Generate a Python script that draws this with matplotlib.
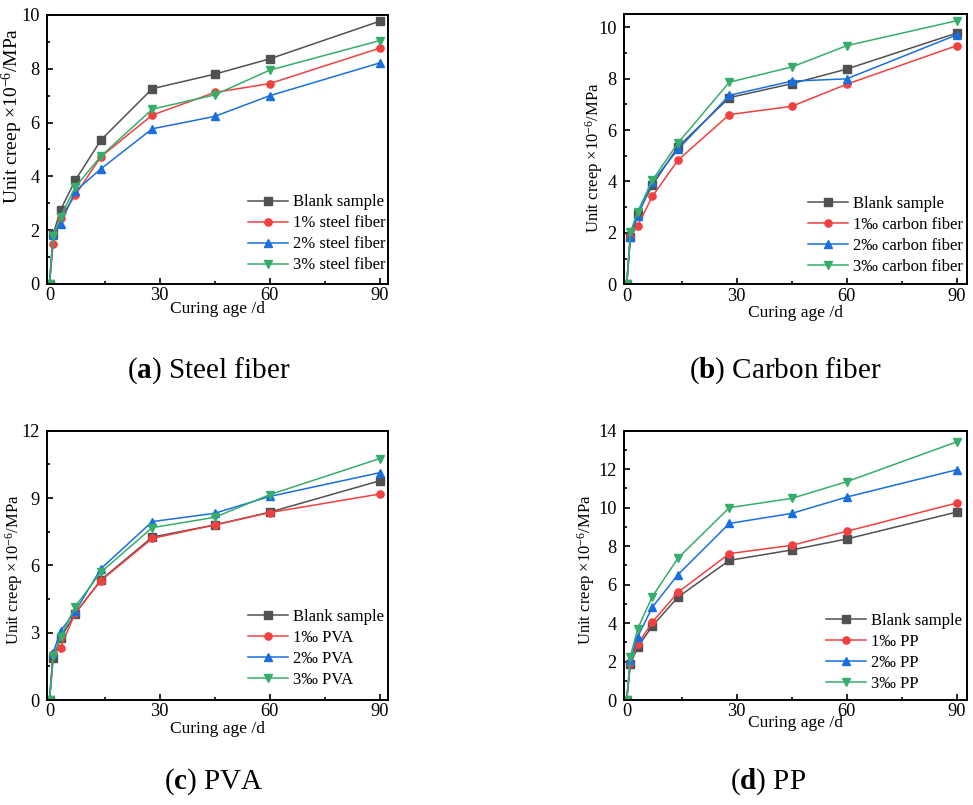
import matplotlib
matplotlib.use("Agg")
import matplotlib.pyplot as plt
from matplotlib.ticker import MultipleLocator

plt.rcParams['font.family'] = ['Liberation Serif', 'DejaVu Serif']
plt.rcParams['mathtext.fontset'] = 'custom'
plt.rcParams['mathtext.rm'] = 'Liberation Serif'
plt.rcParams['mathtext.it'] = 'Liberation Serif:italic'
plt.rcParams['mathtext.bf'] = 'Liberation Serif:bold'

# Curing ages (days)
ages = [0, 1, 3, 7, 14, 28, 45, 60, 90]

# Unit creep (x10^-6 /MPa)
blank = [0, 1.85, 2.75, 3.85, 5.35, 7.26, 7.80, 8.37, 9.77]

steel_1 = [0, 1.50, 2.45, 3.30, 4.73, 6.28, 7.12, 7.45, 8.77]
steel_2 = [0, 1.82, 2.23, 3.45, 4.28, 5.77, 6.23, 7.00, 8.22]
steel_3 = [0, 1.80, 2.50, 3.60, 4.75, 6.50, 7.03, 7.95, 9.05]

carbon_1 = [0, 1.85, 2.28, 3.42, 4.83, 6.60, 6.92, 7.78, 9.28]
carbon_2 = [0, 1.82, 2.66, 3.98, 5.25, 7.35, 7.90, 7.99, 9.70]
carbon_3 = [0, 2.02, 2.83, 4.05, 5.50, 7.86, 8.45, 9.28, 10.25]

pva_1 = [0, 2.07, 2.33, 3.88, 5.32, 7.20, 7.80, 8.35, 9.18]
pva_2 = [0, 2.10, 3.07, 3.95, 5.85, 7.95, 8.32, 9.07, 10.13]
pva_3 = [0, 1.95, 2.79, 4.16, 5.70, 7.68, 8.14, 9.15, 10.76]

pp_1 = [0, 1.94, 2.89, 4.05, 5.60, 7.61, 8.04, 8.77, 10.24]
pp_2 = [0, 2.10, 3.28, 4.83, 6.52, 9.18, 9.70, 10.55, 11.97]
pp_3 = [0, 2.25, 3.71, 5.38, 7.38, 10.00, 10.48, 11.35, 13.42]

steel_labels = ['Blank sample', '1% steel fiber', '2% steel fiber', '3% steel fiber']
carbon_labels = ['Blank sample', '1‰ carbon fiber', '2‰ carbon fiber', '3‰ carbon fiber']
pva_labels = ['Blank sample', '1‰ PVA', '2‰ PVA', '3‰ PVA']
pp_labels = ['Blank sample', '1‰ PP', '2‰ PP', '3‰ PP']

colors = ['#515151', '#F14040', '#1A6FDF', '#37AD6B']
markers = ['s', 'o', '^', 'v']

W, H = 973, 805
fig = plt.figure(figsize=(W / 100, H / 100), dpi=100)


def px_axes(left, top, right, bottom):
    return fig.add_axes([left / W, 1 - bottom / H, (right - left) / W, (bottom - top) / H])


def panel(box, series, labels, ylim, ymajor, yminor, xlim, ylab_x, ylab_y, ylab_size,
          xlab_y, leg_x, leg_y, caption, cap_xy):
    ax = px_axes(*box)
    for ys, lab, c, m in zip(series, labels, colors, markers):
        ax.plot(ages, ys, color=c, marker=m, markersize=5.2, lw=1.1, label=lab)
    ax.set_xlim(*xlim)
    ax.set_ylim(*ylim)
    ax.xaxis.set_major_locator(MultipleLocator(30))
    ax.xaxis.set_minor_locator(MultipleLocator(15))
    ax.yaxis.set_major_locator(MultipleLocator(ymajor))
    ax.yaxis.set_minor_locator(MultipleLocator(yminor))
    ax.tick_params(which='both', direction='in', top=False, right=False, labelsize=13.2,
                   width=1.2, colors='black')
    ax.tick_params(axis='x', which='major', length=4, pad=2.5)
    ax.tick_params(axis='y', which='major', length=4, pad=5.5)
    ax.tick_params(which='minor', length=2.5)
    for s in ax.spines.values():
        s.set_linewidth(1.4)
    ax.set_ylabel('Unit creep ×10$^{-6}$/MPa', fontsize=ylab_size)
    ax.yaxis.set_label_coords(ylab_x, ylab_y)
    ax.set_xlabel('Curing age /d', fontsize=12.5)
    ax.xaxis.set_label_coords(0.5, xlab_y)
    ax.legend(loc='center left', bbox_to_anchor=(leg_x, leg_y), frameon=False,
              fontsize=12, borderpad=0, borderaxespad=0, handlelength=2.4,
              handletextpad=0.3, labelspacing=0.3)
    fig.text(cap_xy[0] / W, 1 - cap_xy[1] / H, caption, fontsize=21,
             ha='center', va='center')
    return ax


panel((47.3, 15, 388.3, 284), [blank, steel_1, steel_2, steel_3], steel_labels,
      (0, 10), 2, 1, (-0.6, 92.3), -0.064, 0.625, 14, -0.064, 0.589, 0.186,
      r'($\mathbf{a}$) Steel fiber', (209, 371))

panel((624.3, 14.3, 967, 284.3), [blank, carbon_1, carbon_2, carbon_3], carbon_labels,
      (0, 10.5), 2, 1, (-0.65, 92.8), -0.056, 0.47, 12, -0.075, 0.536, 0.18,
      r'($\mathbf{b}$) Carbon fiber', (785, 371))

panel((47.3, 430.7, 388.3, 700), [blank, pva_1, pva_2, pva_3], pva_labels,
      (0, 12), 3, 1.5, (-0.6, 92.3), -0.065, 0.483, 12, -0.078, 0.589, 0.19,
      r'($\mathbf{c}$) PVA', (214, 782))

panel((624.3, 430.7, 967, 700), [blank, pp_1, pp_2, pp_3], pp_labels,
      (0, 14), 2, 1, (-0.65, 92.8), -0.08, 0.483, 12, -0.056, 0.589, 0.178,
      r'($\mathbf{d}$) PP', (768, 782))

fig.savefig('out.png', dpi=100)
